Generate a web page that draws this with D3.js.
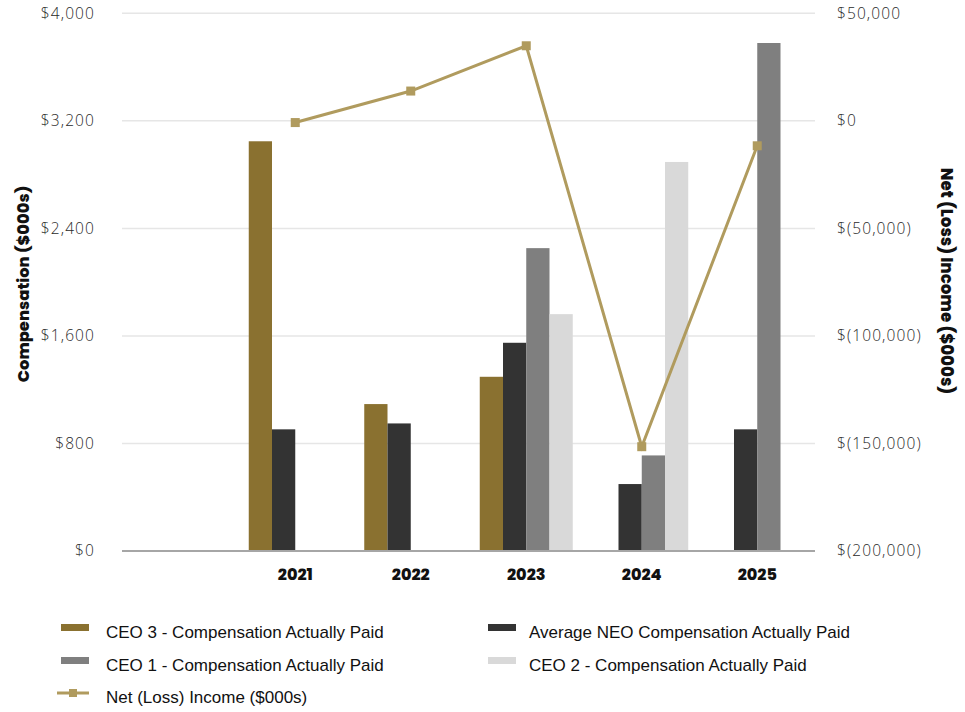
<!DOCTYPE html>
<html><head><meta charset="utf-8">
<script src="https://cdn.jsdelivr.net/npm/d3@7"></script>
<style>body{margin:0;background:#fff}svg{display:block}</style>
</head><body>
<svg id="c" width="965" height="712"></svg>
<script>
const years = ["", "2021", "2022", "2023", "2024", "2025"];
const ceo3 = [null, 3048, 1093, 1296, null, null];
const neo = [null, 905, 949, 1549, 498, 905];
const ceo1 = [null, null, null, 2253, 711, 3779];
const ceo2 = [null, null, null, 1762, 2894, null];
const netIncome = [null, -800, 13850, 34900, -151500, -11600];
const leftTicks = [0, 800, 1600, 2400, 3200, 4000];
const rightTicks = [50000, 0, -50000, -100000, -150000, -200000];
const seriesNames = ["CEO 3 - Compensation Actually Paid", "Average NEO Compensation Actually Paid", "CEO 1 - Compensation Actually Paid", "CEO 2 - Compensation Actually Paid"];
const seriesColors = ["#8a7130", "#333333", "#7f7f7f", "#d9d9d9"];
const lineName = "Net (Loss) Income ($000s)";
const lineColor = "#b09b5e";

const svg = d3.select("#c");
const L = 122, R = 815, T = 13.3, B = 551;
const x = d3.scaleBand().domain(years.map((d,i)=>i)).range([L, R]);
const yL = d3.scaleLinear().domain([0, 4000]).range([B, T]);
const yR = d3.scaleLinear().domain([-200000, 50000]).range([B, T]);
const groupW = 93;
const xs = d3.scaleBand().domain([0,1,2,3]).range([0, groupW]);
const tickFont = "'Open Sans', sans-serif";

// gridlines
svg.append("g").selectAll("line").data(leftTicks.filter(d=>d>0)).join("line")
  .attr("x1", L).attr("x2", R).attr("y1", d=>yL(d)).attr("y2", d=>yL(d))
  .attr("stroke", "#e6e6e6").attr("stroke-width", 1.5);

// left axis labels
const gl = svg.append("g").attr("transform", `translate(95,0)`)
  .call(d3.axisLeft(yL).tickValues(leftTicks).tickSize(0).tickPadding(0).tickFormat(d=>"$"+d3.format(",")(d)));
gl.select(".domain").remove();
gl.selectAll("text").attr("font-family", tickFont).attr("font-weight", 300).attr("font-size", 15.5)
  .attr("letter-spacing", 1.1).attr("fill", "#2a2a2a");

// right axis labels
const gr = svg.append("g").attr("transform", `translate(837,0)`)
  .call(d3.axisRight(yR).tickValues(rightTicks).tickSize(0).tickPadding(0)
    .tickFormat(d=> d<0 ? "$(" + d3.format(",")(-d) + ")" : "$" + d3.format(",")(d)));
gr.select(".domain").remove();
gr.selectAll("text").attr("font-family", tickFont).attr("font-weight", 300).attr("font-size", 15.5)
  .attr("letter-spacing", 1.1).attr("fill", "#2a2a2a");

// bars
const series = [ceo3, neo, ceo1, ceo2];
series.forEach((s, si) => {
  svg.append("g").selectAll("rect").data(s.map((v,i)=>({v,i})).filter(d=>d.v!=null)).join("rect")
    .attr("x", d => x(d.i) + x.bandwidth()/2 - groupW/2 + xs(si))
    .attr("width", xs.bandwidth())
    .attr("y", d => yL(d.v))
    .attr("height", d => yL(0) - yL(d.v))
    .attr("fill", seriesColors[si]);
});

// baseline
svg.append("line").attr("x1", L).attr("x2", R).attr("y1", B).attr("y2", B)
  .attr("stroke", "#a6a6a6").attr("stroke-width", 2);

// x labels
svg.append("g").attr("transform", `translate(0,${B})`)
  .call(d3.axisBottom(x).tickSize(0).tickPadding(0).tickFormat(i=>years[i]))
  .call(g=>g.select(".domain").remove())
  .selectAll("text").attr("dy", null).attr("y", 29)
  .attr("font-family", "Poppins, 'Open Sans', sans-serif").attr("font-weight", 800)
  .attr("font-size", 16).attr("fill", "#111");

// line
const pts = netIncome.map((v,i)=>({v,i})).filter(d=>d.v!=null);
svg.append("path").datum(pts)
  .attr("d", d3.line().x(d=>x(d.i)+x.bandwidth()/2).y(d=>yR(d.v)))
  .attr("fill", "none").attr("stroke", lineColor).attr("stroke-width", 3);
svg.append("g").selectAll("rect").data(pts).join("rect")
  .attr("x", d=>x(d.i)+x.bandwidth()/2-4.5).attr("y", d=>yR(d.v)-4.5)
  .attr("width", 9).attr("height", 9).attr("fill", lineColor);

// axis titles
svg.append("text").attr("transform", "translate(29,284) rotate(-90)")
  .attr("text-anchor", "middle").attr("font-family", "Poppins, 'Open Sans', sans-serif")
  .attr("font-weight", 800).attr("font-size", 16.3).attr("fill", "#111")
  .text("Compensation ($000s)");
svg.append("text").attr("transform", "translate(941,281) rotate(90)")
  .attr("text-anchor", "middle").attr("font-family", "Poppins, 'Open Sans', sans-serif")
  .attr("font-weight", 800).attr("font-size", 16.6).attr("fill", "#111")
  .text("Net (Loss) Income ($000s)");

// legend
const legendFont = "'Liberation Sans', Arial, sans-serif";
const legPos = [[61,106,624,638],[488,529,624,638],[61,106,657,671],[488,529,657,671]];
seriesNames.forEach((n, i) => {
  const [sx, tx, sy, ty] = legPos[i];
  svg.append("rect").attr("x", sx).attr("y", sy).attr("width", 28).attr("height", 7).attr("fill", seriesColors[i]);
  svg.append("text").attr("x", tx).attr("y", ty).attr("font-family", legendFont).attr("font-size", 17).attr("fill", "#111").text(n);
});
svg.append("line").attr("x1", 57).attr("x2", 89).attr("y1", 693).attr("y2", 693).attr("stroke", lineColor).attr("stroke-width", 3);
svg.append("rect").attr("x", 69).attr("y", 689).attr("width", 8).attr("height", 8).attr("fill", lineColor);
svg.append("text").attr("x", 106).attr("y", 703).attr("font-family", legendFont).attr("font-size", 17).attr("fill", "#111").text(lineName);
</script>
</body></html>
